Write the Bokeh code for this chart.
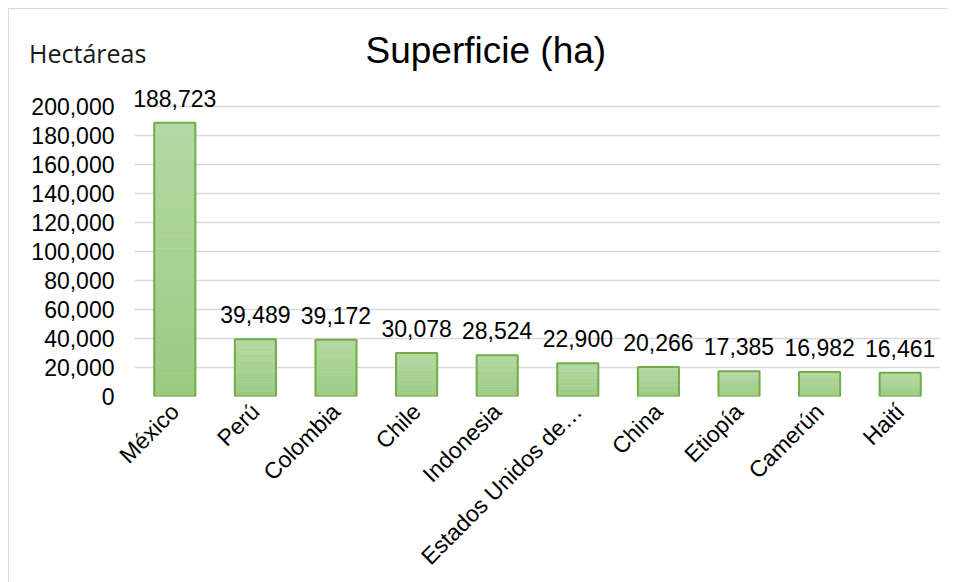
from bokeh.plotting import figure
from bokeh.models import ColumnDataSource, LabelSet, NumeralTickFormatter, FactorRange
from bokeh.core.properties import value
from bokeh.embed import file_html
from bokeh.resources import INLINE
import math

countries = ["México", "Perú", "Colombia", "Chile", "Indonesia", "Estados Unidos de…",
             "China", "Etiopía", "Camerún", "Haití"]
hectares = [188723, 39489, 39172, 30078, 28524, 22900, 20266, 17385, 16982, 16461]
y_ticks = list(range(0, 200001, 20000))

FONT = "Liberation Sans"
H = 574
FRAME_TOP, TOP_GRID, ZERO = 43, 97, 387  # canvas y of frame top, 200,000 and 0
y_top_val = 200000
y_end = y_top_val + (TOP_GRID - FRAME_TOP) * y_top_val / (ZERO - TOP_GRID)

p = figure(width=940, height=H, x_range=FactorRange(*countries, range_padding=0),
           y_range=(0, y_end), output_backend="svg", toolbar_location=None,
           min_border_left=125, min_border_right=9, min_border_top=FRAME_TOP,
           min_border_bottom=H - ZERO)
p.styles = {"border-top": "1px solid #d9d9d9", "border-left": "1px solid #d9d9d9",
            "margin-left": "8px", "margin-top": "8px"}
p.outline_line_color = None
p.background_fill_color = "white"
p.border_fill_color = "white"

# gradient bars: light at top, darker at bottom
N = 24
top_rgb, bot_rgb = (0xb5, 0xd8, 0xa4), (0x9c, 0xca, 0x82)
seg = dict(x=[], bottom=[], top=[], color=[])
for c, v in zip(countries, hectares):
    for k in range(N):
        f = (k + 0.5) / N
        rgb = tuple(round(b + (t - b) * f) for t, b in zip(top_rgb, bot_rgb))
        seg["x"].append(c)
        seg["bottom"].append(v * k / N)
        seg["top"].append(v * (k + 1) / N)
        seg["color"].append("#%02x%02x%02x" % rgb)
p.vbar(x="x", bottom="bottom", top="top", width=0.51, source=ColumnDataSource(seg),
       fill_color="color", line_color="color", line_width=0.6)

src = ColumnDataSource(dict(x=countries, y=hectares, t=[f"{v:,}" for v in hectares]))
p.vbar(x="x", top="y", width=0.51, source=src, fill_color=None,
       line_color="#70ad47", line_width=2)

p.add_layout(LabelSet(x="x", y="y", text="t", source=src, text_align="center",
                      text_baseline="alphabetic", y_offset=16, text_font=value(FONT),
                      text_font_size="23px", text_color="#000000"))

p.xgrid.grid_line_color = None
p.ygrid.grid_line_color = "#d9d9d9"
p.ygrid.grid_line_width = 1.5
p.yaxis.ticker = y_ticks
p.yaxis.formatter = NumeralTickFormatter(format="0,0")

for ax in (p.xaxis, p.yaxis):
    ax.axis_line_color = None
    ax.major_tick_line_color = None
    ax.minor_tick_line_color = None
    ax.major_tick_out = 0
    ax.major_tick_in = 0
    ax.major_label_text_font = FONT
    ax.major_label_text_font_size = "23px"
    ax.major_label_text_color = "#000000"

p.yaxis.major_label_standoff = 20
p.xaxis.major_label_standoff = 11
p.xaxis.major_label_orientation = math.pi / 4

p.yaxis.axis_label = "Hectáreas"
p.yaxis.axis_label_orientation = "horizontal"
p.yaxis.axis_label_align = "end"
p.yaxis.axis_label_standoff = -118
p.yaxis.axis_label_text_font = "Open Sans"
p.yaxis.axis_label_text_font_size = "25px"
p.yaxis.axis_label_text_font_style = "normal"
p.yaxis.axis_label_text_color = "#1a1a1a"

p.title.text = "Superficie (ha)"
p.title.text_font = FONT
p.title.text_font_size = "37px"
p.title.text_font_style = "normal"
p.title.text_color = "#000000"
p.title.align = "left"
p.title.offset = 231
p.title.standoff = -37

open("out.html", "w").write(file_html(p, INLINE))
